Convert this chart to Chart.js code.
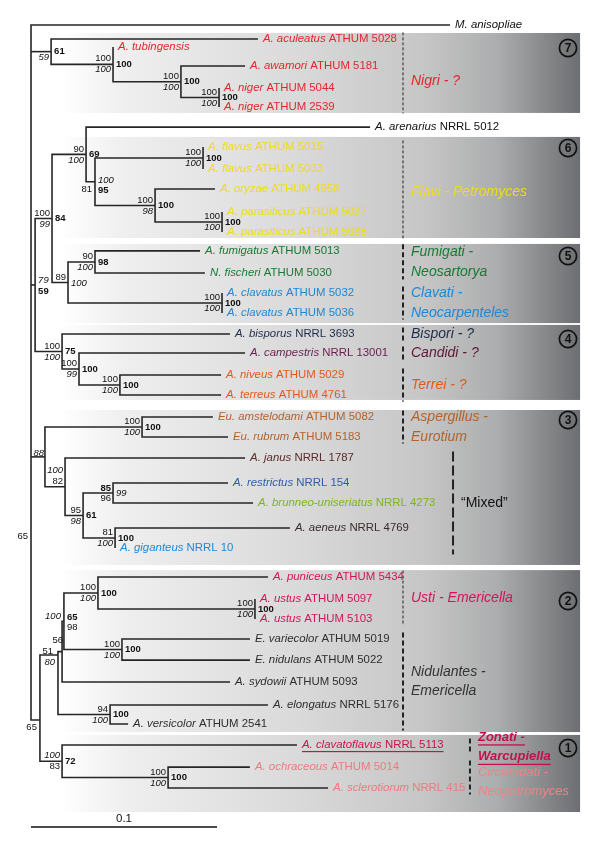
<!DOCTYPE html>
<html><head><meta charset="utf-8">
<script src="https://cdn.jsdelivr.net/npm/chart.js@4/dist/chart.umd.min.js"></script>
<style>html,body{margin:0;padding:0;background:#fff}#wrap{width:600px;height:848px}</style>
</head><body><div id="wrap"><canvas id="c" width="600" height="848"></canvas></div>
<script>
// ---------------- DATA ----------------
const taxa = ["M. anisopliae","A. aculeatus","A. tubingensis","A. awamori","A. niger","A. niger",
 "A. arenarius","A. flavus","A. flavus","A. oryzae","A. parasiticus","A. parasiticus",
 "A. fumigatus","N. fischeri","A. clavatus","A. clavatus",
 "A. bisporus","A. campestris","A. niveus","A. terreus",
 "Eu. amstelodami","Eu. rubrum","A. janus","A. restrictus","A. brunneo-uniseriatus","A. aeneus","A. giganteus",
 "A. puniceus","A. ustus","A. ustus","E. variecolor","E. nidulans","A. sydowii","A. elongatus","A. versicolor",
 "A. clavatoflavus","A. ochraceous","A. sclerotiorum"];
const strains = ["","ATHUM 5028","","ATHUM 5181","ATHUM 5044","ATHUM 2539",
 "NRRL 5012","ATHUM 5015","ATHUM 5033","ATHUM 4958","ATHUM 5037","ATHUM 5038",
 "ATHUM 5013","ATHUM 5030","ATHUM 5032","ATHUM 5036",
 "NRRL 3693","NRRL 13001","ATHUM 5029","ATHUM 4761",
 "ATHUM 5082","ATHUM 5183","NRRL 1787","NRRL 154","NRRL 4273","NRRL 4769","NRRL 10",
 "ATHUM 5434","ATHUM 5097","ATHUM 5103","ATHUM 5019","ATHUM 5022","ATHUM 5093","NRRL 5176","ATHUM 2541",
 "NRRL 5113","ATHUM 5014","NRRL 415"];
// distance from root (substitutions/site) of each tip
const leafDepth = [0.2253,0.1220,0.0441,0.1151,0.1011,0.1011,
 0.1823,0.0925,0.0925,0.0989,0.1027,0.1027,
 0.0909,0.0935,0.1027,0.1027,
 0.1070,0.1151,0.1022,0.1022,
 0.0978,0.1059,0.1151,0.1059,0.1194,0.1392,0.0452,
 0.1274,0.1204,0.1204,0.1177,0.1177,0.1070,0.1274,0.0522,
 0.1430,0.1177,0.1597];
// vertical row of each tip
const leafRow = [0,0.68,1.07,2.0,3.07,4.0,
 4.98,5.95,7.02,8.0,9.12,10.1,
 11.02,12.1,13.07,14.05,
 15.07,16.0,17.07,18.05,
 19.12,20.1,21.12,22.34,23.32,24.54,25.51,
 26.93,28.0,28.98,29.95,30.98,32.05,33.17,34.1,
 35.12,36.2,37.22];

const nodeIds = ['root','nigri','tub','aw','ng','n654','n6a','ar','n95','fl','op','par','n5','fum','clav',
 'n4','cam','ter','n3','eu','mix','n83','n113','n115','n40','nC','nB','n2','n98','n255','n122','nD','n1','n168'];
const nodeDepth = [0,0.0108,0.0441,0.0806,0.1011,0.0022,0.0113,0.0296,0.0344,0.0925,0.0667,0.1027,0.0199,0.0344,0.1027,
 0.0167,0.0258,0.0478,0.0075,0.0597,0.0183,0.0280,0.0441,0.0452,0.0048,0.0145,0.0167,0.0177,0.0360,0.1204,0.0489,0.0425,0.0167,0.0737];
const nodeKids = [
 [0,'nigri','n654','n3','n40'],
 [1,'tub'],[2,'aw'],[3,'ng'],[4,5],
 ['n6a','n4'],['ar','n5'],[6,'n95'],['fl','op'],[7,8],[9,'par'],[10,11],
 ['fum','clav'],[12,13],[14,15],
 [16,'cam'],[17,'ter'],[18,19],
 ['eu','mix'],[20,21],[22,'n83'],['n113','n115'],[23,24],[25,26],
 ['nC','n1'],['nB','nD'],['n2',32],['n98','n122'],[27,'n255'],[28,29],[30,31],[33,34],
 [35,'n168'],[36,37]];
// rows of the few nodes that the figure does not draw at the midpoint of their children
const nodeRowRead = {nC:30.73, n40:33.9};
const supNormal = ['65','','100','100','100','','100','90','81','100','100','100','89','90','100',
 '100','100','100','','100','82','95','96','81','65','51','56','98','100','100','100','94','83','100'];
const supItalic = ['','59','100','100','100','79','99','100','100','100','98','100','100','100','100',
 '100','99','100','88','100','100','98','99','100','','80','','100','100','100','100','100','100','100'];
const supBold = ['','61','100','100','100','59','84','69','95','100','100','100','','98','100',
 '75','100','100','','100','','61','85','100','','','','65','100','100','100','100','72','100'];

const groupLabels = [["Nigri - ?"],["Flavi - Petromyces"],["Fumigati -","Neosartorya"],["Clavati -","Neocarpenteles"],
 ["Bispori - ?"],["Candidi - ?"],["Terrei - ?"],["Aspergillus -","Eurotium"],["\u201CMixed\u201D"],
 ["Usti - Emericella"],["Nidulantes -","Emericella"],["Zonati -","Warcupiella"],["Circumdati -","Neopetromyces"]];
const groupFirst = [1,7,12,14,16,17,18,20,22,27,30,35,36];
const groupLast  = [5,11,13,15,16,17,19,21,26,29,34,35,37];

const sectionNo = ['7','6','5','4','3','2','1'];
const sectionTop = [0.39,5.46,10.68,14.63,18.78,26.59,34.63];
const sectionBottom = [4.29,10.39,14.54,18.29,26.34,34.49,38.39];
const scaleBarLength = 0.1;

// ---------------- STYLE ----------------
const FONT = '"Liberation Sans", Arial, Helvetica, sans-serif';
const RED='#e3262c', YEL='#efdb1c', GRN='#177a34', BLU='#1d88d3', MAG='#d4145a', DK='#2e2e2e', PINK='#ea7b7e';
const leafColor = ['#111',RED,RED,RED,RED,RED,'#111',YEL,YEL,YEL,YEL,YEL,GRN,GRN,BLU,BLU,
 '#1e2b4a','#6b1d4f','#e4581c','#e4581c','#b4622c','#b4622c','#5b2b2b','#2f5ca8','#7cb51f','#3b2b2b',BLU,
 MAG,MAG,MAG,DK,DK,DK,DK,DK,'#c8144a',PINK,PINK];
const groupColor = [RED,YEL,GRN,BLU,'#1e2b4a','#5b1736','#e2591c','#b5622a','#111',MAG,'#333','#c2124c','#ec8484'];
const groupLineX = [0.2,0.2,0.2,0.2,0.2,0.2,0.2,0.2,0.2269,0.2,0.2,0.236,0.236];
const groupDash = [[3,2],[3,2],[5,3],[5,3],[5,3],[5,3],[5,3],[5,3],[10,4],[3,2],[5,3],[5,3],[5,3]];
const groupWidth = [1,1,2,2,2,2,2,2,2,1,2,2,2];
const groupShift = [0.4,0.15,0,0,0,0,0,0,0,0,0,0.1,0.2];
const groupFont = [14,14,14,14,14,14,14,14,14,14,14,13,13];
const supPos = {
  root:{n:['right',-3,0,24.93]},
  n654:{i:['left',3,-5],b:['left',3,6]},
  n95:{n:['right',-3,8],i:['left',3,-1],b:['left',3,9]},
  n5:{i:['left',3,1]},
  n3:{i:['right',-1,-4]},
  mix:{i:['right',-2,-16.5],n:['right',-2,-5.5]},
  n113:{b:['right',-2,-5],i:['left',3,0],n:['right',-2,5]},
  n40:{n:['right',-3,0,34.24]},
  nC:{n:['right',-5,-4],i:['right',-3,7]},
  nB:{n:['right',1,-11]},
  n2:{i:['right',-3,-5],b:['left',3,-4],n:['left',3,6]},
  n1:{i:['right',-2,-5.5],n:['right',-2,5.5]}
};
const defPos = {n:['right',-2,-5.5], i:['right',-2,5.5], b:['left',3,0]};
const X_MIN=-0.01667, X_MAX=0.30591, Y_MIN=-1.2195, Y_MAX=40.146;

// ---------------- TREE GEOMETRY ----------------
const nodeDepthMap = {}, nodeKidMap = {}, nodeRow = Object.assign({}, nodeRowRead);
nodeIds.forEach((id,k)=>{nodeDepthMap[id]=nodeDepth[k]; nodeKidMap[id]=nodeKids[k];});
function refRow(r){ if(typeof r==='number') return leafRow[r];
  if(nodeRow[r]===undefined){const ks=nodeKidMap[r]; nodeRow[r]=(refRow(ks[0])+refRow(ks[ks.length-1]))/2;}
  return nodeRow[r]; }
function refDepth(r){ return typeof r==='number' ? leafDepth[r] : nodeDepthMap[r]; }

function seg(pts, extra){
  return Object.assign({data:pts.map(p=>({x:p[0],y:p[1]})), showLine:true, borderColor:'#262626',
    borderWidth:1.6, pointRadius:0, pointHoverRadius:0, fill:false, tension:0, borderJoinStyle:'miter', borderCapStyle:'butt'}, extra||{});
}
const datasets = [];
nodeIds.forEach((id,k)=>{
  const ks = nodeKids[k], d = nodeDepth[k];
  const f = ks[0], l = ks[ks.length-1];
  datasets.push(seg([[refDepth(f),refRow(f)],[d,refRow(f)],[d,refRow(l)],[refDepth(l),refRow(l)]]));
  ks.slice(1,-1).forEach(c=>datasets.push(seg([[d,refRow(c)],[refDepth(c),refRow(c)]])));
});
groupLabels.forEach((g,i)=>{
  const r1 = leafRow[groupFirst[i]]-0.32, r2 = leafRow[groupLast[i]]+0.32;
  datasets.push(seg([[groupLineX[i],r1],[groupLineX[i],r2]],{borderColor:'#222',borderWidth:groupWidth[i],borderDash:groupDash[i]}));
});
const SCALE_ROW = 39.12;
datasets.push(seg([[0,SCALE_ROW],[scaleBarLength,SCALE_ROW]],{borderColor:'#111',borderWidth:1.4}));

// ---------------- PLUGINS ----------------
const boxPlugin = {id:'boxes', beforeDatasetsDraw(chart){
  const {ctx, scales:{x,y}} = chart;
  const x0 = x.getPixelForValue(0.0156), x1 = x.getPixelForValue(0.2952);
  ctx.save();
  sectionTop.forEach((t,i)=>{
    const y0 = y.getPixelForValue(t), y1 = y.getPixelForValue(sectionBottom[i]);
    const g = ctx.createLinearGradient(x0,0,x1,0);
    g.addColorStop(0,'rgba(255,255,255,1)');
    g.addColorStop(0.12,'#efefef');
    g.addColorStop(0.45,'#dadada');
    g.addColorStop(0.7,'#c6c6c6');
    g.addColorStop(0.84,'#acadae');
    g.addColorStop(1,'#6c6e71');
    ctx.fillStyle = g; ctx.fillRect(x0,y0,x1-x0,y1-y0);
  });
  ctx.restore();
}};
const textPlugin = {id:'texts', afterDatasetsDraw(chart){
  const {ctx, scales:{x,y}} = chart;
  ctx.save(); ctx.textBaseline='middle';
  // tip labels
  taxa.forEach((t,i)=>{
    const px = x.getPixelForValue(leafDepth[i])+5, py = y.getPixelForValue(leafRow[i]);
    ctx.fillStyle = leafColor[i]; ctx.textAlign='left';
    ctx.font = 'italic 11.4px '+FONT; ctx.fillText(t,px,py);
    let w = ctx.measureText(t).width;
    if(strains[i]){ ctx.font='11.4px '+FONT; ctx.fillText(' '+strains[i],px+w,py); w += ctx.measureText(' '+strains[i]).width; }
    if(i===35){ ctx.fillRect(px,py+6,w,1.2); }
  });
  // support values
  nodeIds.forEach((id,k)=>{
    const nx = x.getPixelForValue(nodeDepth[k]);
    const vals = {n:supNormal[k], i:supItalic[k], b:supBold[k]};
    ['n','i','b'].forEach(s=>{
      if(!vals[s]) return;
      const p = (supPos[id]&&supPos[id][s]) || defPos[s];
      const row = p[3]!==undefined ? p[3] : refRow(id);
      const ny = y.getPixelForValue(row);
      ctx.font = (s==='i'?'italic ':s==='b'?'bold ':'')+'9.5px '+FONT;
      ctx.fillStyle='#111'; ctx.textAlign=p[0];
      ctx.fillText(vals[s], nx+p[1], ny+p[2]);
    });
  });
  // group labels
  groupLabels.forEach((g,i)=>{
    const cx = x.getPixelForValue(groupLineX[i])+8;
    const mid = (leafRow[groupFirst[i]]+leafRow[groupLast[i]])/2 + groupShift[i];
    ctx.fillStyle = groupColor[i]; ctx.textAlign='left';
    ctx.font = (i===8?'':'italic ')+(i===11?'bold ':'')+groupFont[i]+'px '+FONT;
    g.forEach((line,j)=>{
      const py = y.getPixelForValue(mid + (j-(g.length-1)/2)*0.95);
      ctx.fillText(line,cx,py);
      if(i===11){ const w=ctx.measureText(line).width; ctx.fillRect(cx,py+7,w,1.3); }
    });
  });
  // section badges
  const sectionBadgeRow = [1.12,6.0,11.27,15.32,19.27,28.1,35.27];
  sectionNo.forEach((n,i)=>{
    const cx = x.getPixelForValue(0.2887), cy = y.getPixelForValue(sectionBadgeRow[i]);
    ctx.beginPath(); ctx.arc(cx,cy,8.6,0,Math.PI*2); ctx.lineWidth=1.7; ctx.strokeStyle='#111'; ctx.stroke();
    ctx.fillStyle='#111'; ctx.font='bold 12px '+FONT; ctx.textAlign='center'; ctx.fillText(n,cx,cy+0.5);
  });
  // scale label
  ctx.fillStyle='#111'; ctx.font='11.5px '+FONT; ctx.textAlign='center';
  ctx.fillText(String(scaleBarLength), x.getPixelForValue(scaleBarLength/2), y.getPixelForValue(SCALE_ROW)-8);
  ctx.restore();
}};

new Chart(document.getElementById('c'), {
  type:'scatter',
  data:{datasets},
  options:{responsive:false, animation:false, maintainAspectRatio:false,
    layout:{padding:0},
    plugins:{legend:{display:false}, tooltip:{enabled:false}},
    events:[],
    scales:{
      x:{type:'linear', min:X_MIN, max:X_MAX, display:false},
      y:{type:'linear', min:Y_MIN, max:Y_MAX, reverse:true, display:false}
    }},
  plugins:[boxPlugin,textPlugin]
});
</script></body></html>
